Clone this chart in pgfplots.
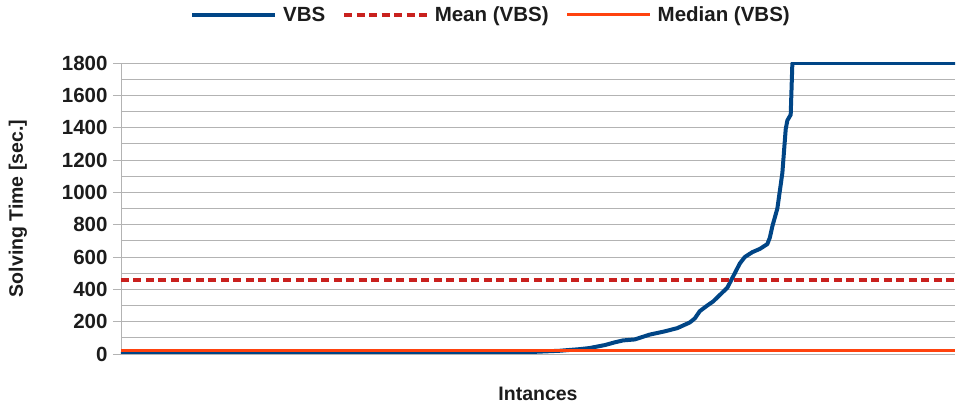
\documentclass[border=0pt]{standalone}
\usepackage{pgfplots}
\pgfplotsset{compat=1.18}
\usepackage{fontspec}
\setmainfont{Liberation Sans}
\definecolor{vbs}{HTML}{004586}
\definecolor{meanc}{HTML}{C9211E}
\definecolor{medc}{HTML}{FF420E}
\definecolor{gridc}{HTML}{B3B3B3}
\definecolor{txt}{HTML}{1C1C1C}
\begin{document}
\begin{tikzpicture}
\begin{axis}[
    name=ax,
    scale only axis,
    width=834pt,
    height=291pt,
    xmin=0, xmax=100,
    ymin=0, ymax=1800,
    ytick distance=200,
    minor y tick num=1,
    xtick=\empty,
    ymajorgrids, yminorgrids,
    major grid style={gridc, line width=0.9pt},
    minor grid style={gridc, line width=0.9pt},
    axis x line*=bottom,
    axis y line*=left,
    axis line style={gridc, line width=0.9pt, -},
    major tick length=8pt,
    minor tick length=0pt,
    tick style={gridc, line width=0.9pt},
    ytick align=outside,
    tick label style={font=\fontsize{20.5}{22}\selectfont\bfseries, text=txt},
    /pgf/number format/assume math mode=true,
    /pgf/number format/1000 sep={},
    yticklabel style={xshift=-2pt},
    ylabel={Solving Time [sec.]},
    xlabel={Intances},
    label style={font=\fontsize{19.5}{21}\selectfont\bfseries, text=txt},
    ylabel style={at={(axis description cs:-0.1235,0.5)}, anchor=center},
    xlabel style={at={(axis description cs:0.5,-0.137)}, anchor=center},
    legend style={
        at={(axis description cs:0.4424,1.165)}, anchor=center,
        draw=none, fill=none,
        legend columns=-1,
        font=\fontsize{20.5}{22}\selectfont\bfseries,
        text=txt,
        nodes={inner xsep=0pt, inner ysep=0pt},
        /tikz/every even column/.append style={column sep=17pt},
        /tikz/every odd column/.append style={column sep=6pt},
    },
    legend image code/.code={\draw[#1] (0pt,0pt) -- (83pt,0pt);},
]
\addplot[vbs, line width=4pt, line join=round] coordinates {
    (0,0) (33.5,0.5) (39.4,3) (45.4,6) (49.0,12) (52.6,20) (55.0,30)
    (56.2,37) (58.0,55) (59.2,72) (60.2,84) (61.6,90) (63.4,120)
    (65.2,140) (66.7,160) (68.2,195) (68.8,220) (69.4,265) (70.3,300)
    (71.0,325) (71.8,365) (72.7,410) (73.4,480) (74.2,560) (74.8,600)
    (75.7,630) (76.6,650) (77.5,680) (77.8,720) (78.1,790) (78.7,900)
    (79.3,1120) (79.7,1390) (79.9,1445) (80.3,1480) (80.5,1800) (100,1800)
};
\addlegendentry{VBS}
\addplot[meanc, line width=3.5pt, dash pattern=on 8pt off 4.5pt] coordinates {
    (0,459) (100,459)
};
\addlegendentry{Mean (VBS)}
\addplot[medc, line width=3pt] coordinates {
    (0,20) (100,20)
};
\addlegendentry{Median (VBS)}
\end{axis}
\pgfresetboundingbox
\path[use as bounding box] ([shift={(-121pt,-55pt)}]ax.south west) rectangle ([shift={(1pt,63pt)}]ax.north east);
\end{tikzpicture}
\end{document}
